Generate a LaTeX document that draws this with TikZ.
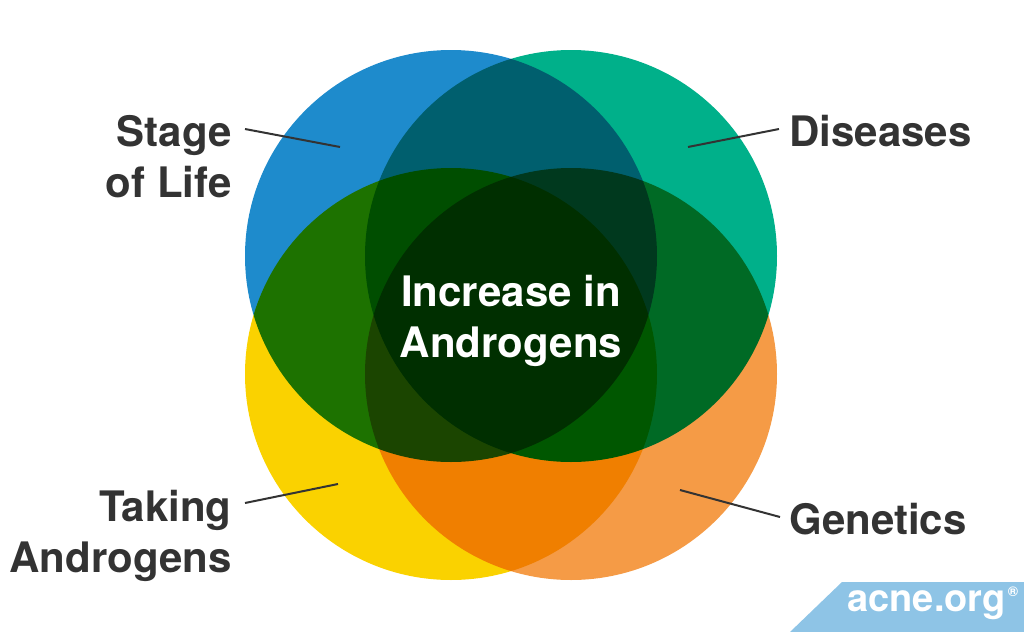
\documentclass[tikz,border=0pt]{standalone}
\usepackage{fontspec}
\setmainfont{TeX Gyre Heros}
\usepackage{tikz}
\usepackage{xcolor}
\usetikzlibrary{calc}
\definecolor{vblue}{RGB}{30,139,204}
\definecolor{vteal}{RGB}{0,176,138}
\definecolor{vyellow}{RGB}{250,210,0}
\definecolor{vorange}{RGB}{245,155,70}
\definecolor{labelgray}{RGB}{51,51,51}
\definecolor{badgeblue}{RGB}{142,196,230}
\tikzset{
    lbl/.style={font=\bfseries\fontsize{21}{25.5}\selectfont, text=labelgray, inner sep=0pt},
    leader/.style={draw=labelgray, line width=1pt}
}

\begin{document}
\begin{tikzpicture}[x=0.5pt,y=-0.5pt]
\useasboundingbox (0,0) rectangle (1024,632);
\begin{scope}[blend group=multiply]
\foreach \x/\y/\c in {451/256/vblue, 571/256/vteal, 451/374/vyellow, 571/374/vorange}{
    \coordinate (c-\c) at (\x,\y);
    \fill[\c] (c-\c) circle (103pt);
}
\end{scope}
\node (increase) at (511,275)[lbl, text=white, align=center, anchor=north] {Increase in\\Androgens};
\node (stage) at (232,115)[lbl, align=right, anchor=north east] {Stage\\of Life};
\node (diseases) at (789,115)[lbl, anchor=north west] {Diseases};
\node (taking) at (232,490)[lbl, align=right, anchor=north east] {Taking\\Androgens};
\node (genetics) at (789,503)[lbl, anchor=north west] {Genetics};
\foreach \p/\xa/\ya/\xb/\yb in {stage/245/129/340/147, diseases/779/129/688/147, taking/245/503/338/484, genetics/780/517/680/490}{
    \coordinate (\p-a) at (\xa,\ya);
    \coordinate (\p-b) at (\xb,\yb);
    \draw[leader] (\p-a)--(\p-b);
}
% badge
\fill[badgeblue] (842,582)--(1024,582)--(1024,632)--(790,632)--cycle;
\node (acne) at (847,611)[anchor=base west, inner sep=0pt, text=white, font=\bfseries\fontsize{19}{19}\selectfont] {acne.org\hspace{1pt}\raisebox{0.38em}{\fontsize{7}{7}\selectfont ®}};
\end{tikzpicture}
\end{document}
